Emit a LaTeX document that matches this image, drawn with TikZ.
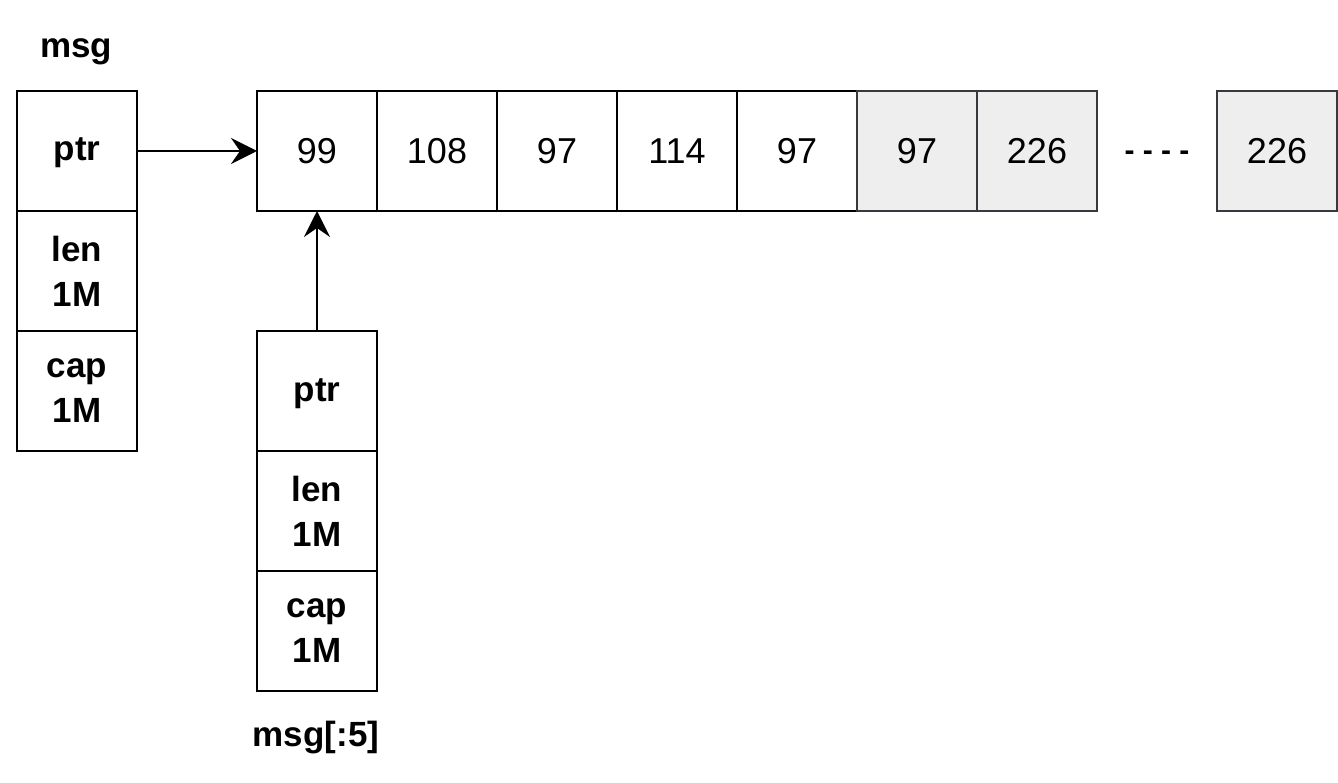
\documentclass[tikz,border=0pt]{standalone}
\usepackage{fontspec}
\setmainfont{Liberation Sans}
\usetikzlibrary{arrows.meta}
\definecolor{grayfill}{HTML}{EEEEEE}
\definecolor{grayline}{HTML}{36393D}
\tikzset{
  cell/.style={draw=black, line width=2.5pt, minimum width=120pt, minimum height=120pt, inner sep=0pt, outer sep=0pt, font=\fontsize{36}{45}\selectfont},
  graycell/.style={cell, draw=grayline, fill=grayfill},
  field/.style={cell, align=center, font=\fontsize{35}{45}\selectfont\bfseries},
  ptrfield/.style={cell, font=\fontsize{35}{45}\selectfont\bfseries, text height=30pt, text depth=10pt},
  lbl/.style={font=\fontsize{35}{45}\selectfont\bfseries, inner sep=0pt},
  arr/.style={line width=2.5pt, -{Stealth[length=26pt, width=26pt, inset=9pt]}}
}
\begin{document}
\begin{tikzpicture}[x=1pt, y=-1pt]
\useasboundingbox (0,0) rectangle (1338,783);
% msg struct
\node[lbl] (msglbl) at (76,52) {msg};
\node[ptrfield] (mptr) at (77,151) {ptr};
\node[field] (mlen) at (77,271) {len\\1M};
\node[field] (mcap) at (77,391) {cap\\1M};
% array
\node[cell] (a0) at (317,151) {99};
\node[cell] (a1) at (437,151) {108};
\node[cell] (a2) at (557,151) {97};
\node[cell] (a3) at (677,151) {114};
\node[cell] (a4) at (797,151) {97};
\node[graycell] (a5) at (917,151) {97};
\node[graycell] (a6) at (1037,151) {226};
\node[font=\fontsize{30}{36}\selectfont\bfseries, inner sep=0pt] (dots) at (1157,156) {- - - -};
\node[graycell] (a7) at (1277,151) {226};
% slice struct
\node[ptrfield] (sptr) at (317,391) {ptr};
\node[field] (slen) at (317,511) {len\\1M};
\node[field] (scap) at (317,631) {cap\\1M};
\node[lbl] (slbl) at (316,738) {msg[:5]};
% arrows
\draw[arr] (mptr.east) -- (a0.west);
\draw[arr] (sptr.north) -- (a0.south);
\end{tikzpicture}
\end{document}
